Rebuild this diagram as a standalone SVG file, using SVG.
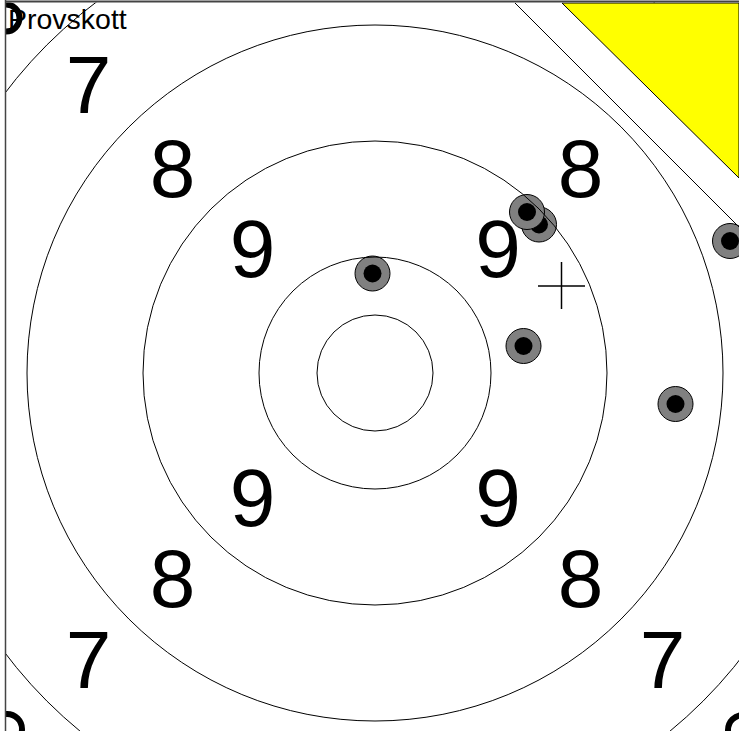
<svg xmlns="http://www.w3.org/2000/svg" width="739" height="731" viewBox="0 0 739 731">
<style>
.ring{fill:none;stroke:#000;stroke-width:1}
.num{font-family:"Liberation Sans",Arial,sans-serif;font-size:82px;fill:#000;text-anchor:middle}
.lbl{font-family:"Liberation Sans",Arial,sans-serif;font-size:28.5px;fill:#000}
.shot-o{fill:#808080;stroke:#000;stroke-width:1}
.shot-i{fill:#000}
.frag{fill:none;stroke:#000;stroke-width:6}
</style>
<defs>
<clipPath id="plot"><rect x="6" y="2.5" width="733" height="728.5"/></clipPath>
</defs>
<rect x="0" y="0" width="739" height="731" fill="#fff"/>
<g clip-path="url(#plot)">
<g id="shots">
<g id="shot1"><circle class="shot-o" cx="372.5" cy="273.5" r="17.5"/><circle class="shot-i" cx="372.5" cy="273.5" r="9"/></g>
<g id="shot2"><circle class="shot-o" cx="523.5" cy="346" r="17.5"/><circle class="shot-i" cx="523.5" cy="346" r="9"/></g>
<g id="shot3"><circle class="shot-o" cx="675.5" cy="404" r="17.5"/><circle class="shot-i" cx="675.5" cy="404" r="9"/></g>
<g id="shot4"><circle class="shot-o" cx="730" cy="241" r="17.5"/><circle class="shot-i" cx="730" cy="241" r="9"/></g>
<g id="shot5"><circle class="shot-o" cx="539" cy="224.5" r="17.5"/><circle class="shot-i" cx="539" cy="224.5" r="9"/></g>
<g id="shot6"><circle class="shot-o" cx="527" cy="212" r="17.5"/><circle class="shot-i" cx="527" cy="212" r="9"/></g>
</g>
<g id="rings">
<circle class="ring" cx="375" cy="373" r="58"/>
<circle class="ring" cx="375" cy="373" r="116"/>
<circle class="ring" cx="375" cy="373" r="232"/>
<circle class="ring" cx="375" cy="373" r="348"/>
<circle class="ring" cx="375" cy="373" r="464"/>
</g>
<g id="labels">
<text class="num" x="88.5" y="113">7</text>
<text class="num" x="172.5" y="197">8</text>
<text class="num" x="252.5" y="277">9</text>
<text class="num" x="498" y="277">9</text>
<text class="num" x="580.5" y="197">8</text>
<text class="num" x="252.5" y="526">9</text>
<text class="num" x="498" y="526">9</text>
<text class="num" x="172.5" y="607">8</text>
<text class="num" x="580.5" y="607">8</text>
<text class="num" x="88.5" y="688">7</text>
<text class="num" x="662.5" y="688">7</text>
</g>
<g id="crosshair">
<line x1="538" y1="286" x2="585" y2="286" stroke="#000" stroke-width="1.5"/>
<line x1="561.5" y1="262" x2="561.5" y2="309" stroke="#000" stroke-width="1.5"/>
</g>
<g id="connectors">
<line x1="515" y1="3" x2="739" y2="227" stroke="#000" stroke-width="1"/>
</g>
<g id="yellow-zone">
<polygon points="562,3 739,3 739,178" fill="#ffff00" stroke="#000" stroke-width="1"/>
</g>
<g id="fragments">
<circle class="frag" cx="6" cy="18" r="13.5"/>
<circle class="frag" cx="7" cy="729" r="15"/>
<circle class="frag" cx="743" cy="730" r="15"/>
</g>
<g id="title">
<text class="lbl" x="8" y="29">Provskott</text>
</g>
</g>
<g id="frame">
<line x1="5.5" y1="0" x2="5.5" y2="731" stroke="#444" stroke-width="1.5"/>
<line x1="5" y1="1.5" x2="739" y2="1.5" stroke="#444" stroke-width="2"/>
</g>
</svg>
